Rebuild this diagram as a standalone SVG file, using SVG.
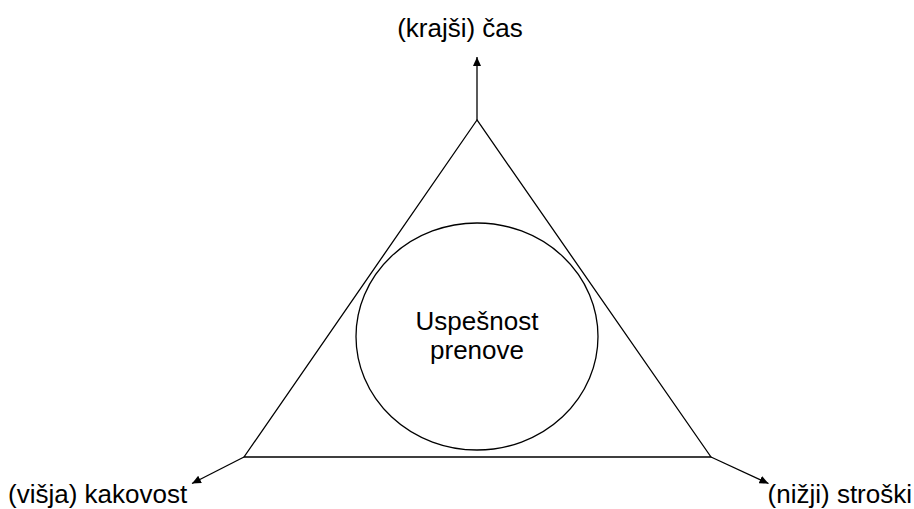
<svg xmlns="http://www.w3.org/2000/svg" width="914" height="509" viewBox="0 0 914 509">
<style>
.ln{fill:none;stroke:#000;stroke-width:1.3}
.t{font-family:"Liberation Sans",Arial,sans-serif;font-size:26px;fill:#000}
</style>
<defs>
<marker id="ah" markerUnits="userSpaceOnUse" markerWidth="10" markerHeight="10" viewBox="0 0 10 10" refX="9" refY="5" orient="auto">
<path d="M0,1 L9,5 L0,9 Z" fill="#000"/>
</marker>
</defs>
<rect width="914" height="509" fill="#fff"/>
<g id="triangle">
<path class="ln" d="M477,120 L244,457 L711,457 Z"/>
</g>
<g id="center">
<ellipse class="ln" cx="477" cy="336.5" rx="121" ry="113.5"/>
<text class="t" x="477" y="330" text-anchor="middle">Uspešnost</text>
<text class="t" x="477" y="359" text-anchor="middle">prenove</text>
</g>
<g id="connectors">
<line class="ln" x1="477" y1="120" x2="477" y2="57" marker-end="url(#ah)"/>
<line class="ln" x1="244" y1="457" x2="192" y2="483.5" marker-end="url(#ah)"/>
<line class="ln" x1="711" y1="457" x2="768.5" y2="483.5" marker-end="url(#ah)"/>
</g>
<g id="time"><text class="t" x="460" y="37" text-anchor="middle">(krajši) čas</text></g>
<g id="quality"><text class="t" x="8" y="503">(višja) kakovost</text></g>
<g id="cost"><text class="t" x="912" y="503" text-anchor="end">(nižji) stroški</text></g>
</svg>
